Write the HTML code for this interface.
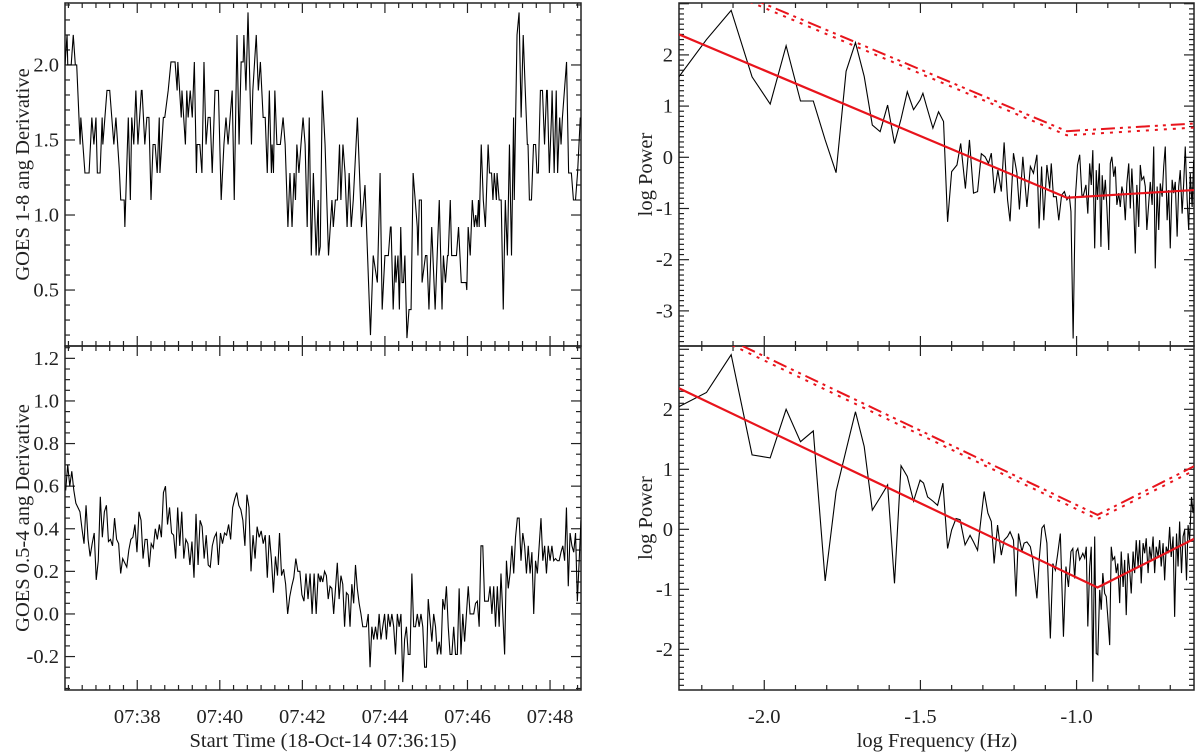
<!DOCTYPE html>
<html><head><meta charset="utf-8"><style>
html,body{margin:0;padding:0;background:#fff;}
svg{display:block;font-family:"Liberation Serif",serif;}
</style></head><body>
<svg id="chart" width="1200" height="752" viewBox="0 0 1200 752" xmlns="http://www.w3.org/2000/svg"></svg>
<script>
// ---------- Data ----------
const tlTime=[0,3,4,9,12,15,17,22,23,26,29,35,39,42,45,47,51,54,55,61,65,68,71,74,79,81,86,87,92,95,97,100,103,106,111,112,116,119,122,125,128,131,134,137,138,143,145,150,154,160,163,164,169,170,175,177,179,182,185,188,191,192,196,199,202,205,208,211,214,218,223,227,231,234,237,243,246,250,253,256,259,260,263,266,271,273,278,281,284,288,291,294,297,300,301,303,305,308,313,317,320,324,327,330,333,335,337,340,343,346,349,352,355,358,361,365,368,369,371,374,378,383,388,390,393,396,399,401,404,407,410,413,416,419,425,431,436,444,448,454,458,461,465,470,473,474,477,480,481,484,486,488,490,492,494,497,500,503,506,512,513,515,518,519,524,526,529,533,538,544,547,548,550,553,556,557,560,562,569,572,576,583,584,586,589,592,595,597,599,601,602,605,608,611,615,617,620,622,624,627,628,631,634,637,640,643,646,649,652,653,657,660,663,666,669,672,673,675,678,681,684,686,688,691,694,697,700,701,704,707,708,711,714,716,719,721,723,729,732,736,739,742,745,749];
const tlVal=[2.0,2.2,2.0,2.0,2.2,2.0,2.0,1.47,1.65,1.47,1.28,1.28,1.65,1.47,1.65,1.28,1.28,1.65,1.47,1.83,1.83,1.65,1.47,1.65,1.3,1.1,1.1,0.92,1.65,1.1,1.65,1.47,1.83,1.47,1.83,1.83,1.47,1.65,1.65,1.1,1.47,1.47,1.28,1.65,1.28,1.65,1.65,1.83,2.02,2.02,1.83,2.02,1.65,1.83,1.47,1.83,1.65,1.83,1.65,2.02,1.28,1.47,1.47,1.28,2.02,1.47,1.65,1.65,1.28,1.83,1.83,1.1,1.47,1.65,1.47,1.83,1.1,2.2,1.47,2.02,2.02,2.2,1.83,2.35,1.47,1.83,2.2,1.83,2.02,1.65,1.65,1.28,1.83,1.28,1.47,1.28,1.83,1.47,1.47,1.65,1.47,0.92,1.28,0.92,1.28,1.1,1.47,1.28,1.47,1.65,1.47,0.92,1.65,0.73,1.28,0.73,1.1,0.73,0.79,1.83,1.47,0.73,1.1,0.92,1.1,1.1,1.47,1.1,1.47,1.28,0.92,1.28,0.92,1.1,1.65,0.92,1.2,0.2,0.73,0.55,1.28,0.37,0.73,0.73,0.92,0.92,0.37,0.73,0.55,0.73,0.37,0.92,0.55,0.55,0.73,0.18,0.37,0.37,1.28,0.92,0.73,1.1,1.1,0.55,0.73,0.73,0.37,0.92,0.37,1.1,0.55,0.37,0.73,0.55,0.73,0.73,1.1,0.73,0.73,0.92,0.55,0.55,0.5,0.92,0.73,1.1,0.92,1.0,0.92,1.1,0.92,1.47,1.1,0.92,1.47,1.28,1.28,1.1,1.28,1.1,1.28,1.1,1.1,0.37,1.1,0.73,1.47,0.73,1.65,1.1,2.2,2.35,1.65,2.2,1.83,1.47,1.47,1.1,1.1,1.47,1.47,1.28,1.28,1.83,1.83,1.47,1.83,1.83,1.28,1.65,1.83,1.28,1.83,1.28,1.65,1.47,1.65,2.02,1.28,1.28,1.1,1.1,1.28,1.65];
const blSeg1Start=1, blSeg1End=371;
const blSeg1=[0.58,0.7,0.6,0.67,0.58,0.52,0.5,0.48,0.4,0.33,0.51,0.35,0.27,0.33,0.38,0.16,0.25,0.55,0.36,0.48,0.51,0.34,0.35,0.32,0.45,0.35,0.33,0.19,0.26,0.24,0.22,0.3,0.35,0.36,0.42,0.29,0.48,0.44,0.26,0.35,0.35,0.22,0.33,0.31,0.4,0.35,0.42,0.36,0.57,0.6,0.42,0.5,0.38,0.37,0.26,0.5,0.32,0.48,0.26,0.35,0.33,0.23,0.34,0.17,0.47,0.23,0.44,0.41,0.26,0.37,0.23,0.22,0.32,0.36,0.38,0.23,0.38,0.33,0.38,0.37,0.42,0.35,0.5,0.54,0.57,0.51,0.49,0.44,0.32,0.56,0.5,0.2,0.37,0.26,0.41,0.36,0.39,0.33,0.37,0.17,0.37,0.26,0.1,0.27,0.18,0.38,0.18,0.21,0.14,0.0,0.08,0.13,0.17,0.26,0.2,0.2,0.09,0.06,0.19,0.07,0.19,0.0,0.19,0.0,0.19,0.15];
const blSeg2Start=372, blSeg2End=750;
const blSeg2=[0.18,0.15,0.2,0.18,0.07,0.13,0.12,0.0,0.12,0.24,0.07,0.18,0.14,-0.06,0.1,0.09,-0.06,0.14,0.05,0.23,0.12,0.05,0.0,-0.06,-0.06,-0.06,0.0,-0.25,-0.06,-0.12,-0.06,-0.12,0.0,-0.12,-0.06,0.0,-0.12,0.0,-0.06,0.0,-0.06,-0.19,0.0,-0.06,0.0,-0.32,-0.12,-0.06,-0.19,-0.19,0.19,-0.06,-0.06,0.0,-0.06,0.0,-0.06,-0.25,-0.25,0.07,-0.03,-0.13,0.0,-0.06,-0.19,-0.13,-0.19,0.07,0.02,0.13,-0.06,-0.19,-0.19,-0.06,-0.19,-0.19,0.12,-0.19,0.0,-0.13,0.0,0.13,0.0,0.0,0.0,0.05,0.06,-0.06,0.32,0.32,0.06,0.06,0.06,0.13,0.0,0.13,-0.06,0.13,-0.06,0.19,0.0,-0.19,0.25,0.12,0.19,0.32,0.19,0.36,0.45,0.45,0.25,0.38,0.32,0.19,0.32,0.19,0.29,0.0,0.25,0.19,0.32,0.45,0.25,0.32,0.19,0.32,0.25,0.32,0.25,0.26,0.25,0.25,0.29,0.32,0.25,0.5,0.13,0.38,0.32,0.29,0.38,0.06,0.25,0.44];
const trFreq=[-2.282,-2.185,-2.106,-2.039,-1.981,-1.930,-1.884,-1.843,-1.805,-1.770,-1.738,-1.708,-1.680,-1.654,-1.629,-1.605,-1.583,-1.562,-1.542,-1.522,
-1.501,-1.492,-1.480,-1.460,-1.442,-1.426,-1.413,-1.400,-1.383,-1.371,-1.356,-1.343,-1.330,-1.317,-1.305,-1.293,-1.282,-1.273,-1.263,-1.252,-1.241,-1.232,-1.221,-1.213,-1.202,-1.191,-1.183,-1.172,-1.159,-1.148,-1.138,-1.127,-1.120,-1.112,-1.105,-1.095,-1.086,-1.081,-1.074,-1.065,-1.057,-1.048,-1.039,-1.031,-1.023,-1.018,-1.011,-1.004,-0.997,-0.990,-0.983,-0.978,-0.970,-0.964,-0.958,-0.953,-0.948,-0.942,-0.937,-0.933,-0.927,-0.922,-0.918,-0.913,-0.908,-0.903,-0.897,-0.892,-0.887,-0.881,-0.876,-0.871,-0.865,-0.860,-0.855,-0.849,-0.844,-0.839,-0.833,-0.828,-0.823,-0.817,-0.812,-0.807,-0.801,-0.796,-0.791,-0.785,-0.780,-0.775,-0.769,-0.764,-0.758,-0.753,-0.748,-0.742,-0.737,-0.732,-0.726,-0.721,-0.716,-0.710,-0.705,-0.700,-0.694,-0.689,-0.684,-0.678,-0.673,-0.668,-0.662,-0.657,-0.652,-0.646,-0.641,-0.636,-0.630,-0.625];
const trPow=[1.5,2.3,2.87,1.57,1.04,2.18,1.10,1.10,0.34,-0.30,1.68,2.24,1.58,0.63,0.5,1.02,0.27,0.75,1.28,0.93,
1.12,1.25,0.99,0.57,0.89,0.70,-1.26,-0.28,-0.15,0.27,-0.61,0.34,-0.70,-0.67,0.07,0.01,-0.12,0.08,-0.70,-0.25,-0.67,0.29,-0.83,-1.25,0.08,-0.31,-1.02,0.01,-0.97,-0.18,-0.31,0.05,-1.39,-0.18,-1.23,-0.15,-0.61,-0.12,-0.77,-0.77,-1.23,-0.74,-0.67,-0.83,-0.76,-1.06,-3.54,-0.80,-0.15,0.05,-0.74,-0.74,-0.54,-1.10,-0.12,-0.54,0.14,-1.78,-0.25,-0.83,-0.12,-1.75,-0.35,-0.83,-0.44,-0.97,-1.81,-0.12,0.01,-0.38,-0.18,-0.93,-0.70,-0.97,-0.57,-0.74,-1.23,-0.51,-0.12,-1.00,-0.22,-0.97,-1.88,-0.54,-1.36,-0.15,-0.44,-0.38,-0.57,-1.42,-0.90,-0.48,-0.93,0.21,-2.17,-0.57,-1.42,-0.51,-0.77,-0.18,0.21,-1.23,-0.64,-1.78,-0.44,-0.70,-0.48,-1.55,-0.57,-0.25,-1.10,-0.51,0.21,-0.83,-1.42,-0.31,-0.97,-0.05];
const trFitFreq=[-2.273,-1.031,-0.624];
const trFitPow=[2.40,-0.79,-0.64];
const trConfOffsets=[1.30,1.22];
const brFreq=[-2.282,-2.185,-2.106,-2.039,-1.981,-1.930,-1.884,-1.843,-1.805,-1.770,-1.738,-1.708,-1.680,-1.654,-1.629,-1.605,-1.583,-1.562,-1.542,-1.522,
-1.501,-1.490,-1.477,-1.460,-1.445,-1.428,-1.413,-1.400,-1.386,-1.373,-1.357,-1.341,-1.330,-1.317,-1.309,-1.296,-1.284,-1.273,-1.264,-1.253,-1.241,-1.232,-1.221,-1.213,-1.202,-1.194,-1.186,-1.175,-1.168,-1.159,-1.148,-1.140,-1.127,-1.119,-1.111,-1.104,-1.095,-1.084,-1.076,-1.068,-1.061,-1.052,-1.042,-1.034,-1.026,-1.018,-1.012,-1.006,-1.001,-0.996,-0.990,-0.985,-0.980,-0.974,-0.969,-0.964,-0.958,-0.953,-0.948,-0.942,-0.937,-0.932,-0.926,-0.921,-0.916,-0.910,-0.905,-0.900,-0.894,-0.889,-0.884,-0.878,-0.873,-0.868,-0.862,-0.857,-0.851,-0.846,-0.841,-0.835,-0.830,-0.825,-0.819,-0.814,-0.809,-0.803,-0.798,-0.793,-0.787,-0.782,-0.777,-0.771,-0.766,-0.761,-0.755,-0.750,-0.745,-0.739,-0.734,-0.729,-0.723,-0.718,-0.713,-0.707,-0.702,-0.697,-0.691,-0.686,-0.680,-0.675,-0.670,-0.664,-0.659,-0.654,-0.648,-0.643,-0.638,-0.632,-0.627,-0.622];
const brPow=[2.02,2.28,2.91,1.24,1.19,2.0,1.46,1.64,-0.86,0.63,1.32,1.96,1.38,0.32,0.53,0.74,-0.9,1.06,0.88,0.47,
0.82,0.77,0.54,0.47,0.40,0.77,-0.32,-0.01,0.18,0.16,-0.26,-0.1,-0.21,-0.35,0.04,0.63,0.27,0.13,-0.57,0.07,-0.43,-0.18,-0.12,-0.04,-0.18,-1.12,-0.07,-0.37,-0.23,-0.21,-0.29,-0.51,-1.15,-0.46,0.02,0.07,-0.23,-1.82,-0.57,-0.68,-0.43,-0.07,-1.79,-0.62,-0.96,-0.37,-0.32,-0.82,-0.37,-0.32,-0.51,-0.46,-0.40,-0.48,-0.29,-1.62,-0.62,-0.29,-2.54,-0.12,-2.07,-2.09,-1.01,-1.34,-0.73,-1.07,-1.12,-1.46,-1.93,-0.29,-0.51,-0.46,-0.73,-0.57,-1.23,-0.37,-0.96,-0.51,-1.43,-0.40,-0.68,-1.07,-0.37,-0.73,-0.18,-0.62,-0.18,-0.90,-0.23,-0.40,-0.15,-0.73,-0.29,-0.51,-0.12,-0.73,-0.29,-0.46,-0.18,-0.62,-0.23,-0.85,-0.29,-0.40,0.04,-0.46,-0.12,-1.46,-0.07,-0.62,0.13,-0.73,-0.12,-0.01,-0.85,0.07,-0.18,0.54,0.27,0.49];
const brFitFreq=[-2.273,-0.933,-0.624];
const brFitPow=[2.35,-0.97,-0.16];
const brConfOffsets=[1.21,1.14];
const timeTickLabels=["07:38","07:40","07:42","07:44","07:46","07:48"];
const timeTickSecs=[105,225,345,465,585,705];
const tlYTicks=[0.5,1.0,1.5,2.0];
const blYTicks=[-0.2,0.0,0.2,0.4,0.6,0.8,1.0,1.2];
const trYTicks=[-3,-2,-1,0,1,2];
const brYTicks=[-2,-1,0,1,2];
const freqTicks=[-2.0,-1.5,-1.0];

const NS="http://www.w3.org/2000/svg";
const svg=document.getElementById('chart');
const FS=20.5;
function mk(tag,attrs,parent){const e=document.createElementNS(NS,tag);for(const k in attrs)e.setAttribute(k,attrs[k]);(parent||svg).appendChild(e);return e;}
function scale(d0,d1,r0,r1){return v=>r0+(v-d0)/(d1-d0)*(r1-r0);}

const panels={
 tl:{x0:65,x1:581,y0:3,y1:346,xd:[0,750],yd:[2.413,0.127]},
 bl:{x0:65,x1:581,y0:346,y1:690,xd:[0,750],yd:[1.258,-0.357]},
 tr:{x0:679,x1:1194,y0:3,y1:346,xd:[-2.273,-0.624],yd:[3.014,-3.686]},
 br:{x0:679,x1:1194,y0:346,y1:690,xd:[-2.273,-0.624],yd:[3.055,-2.678]}
};
for(const k in panels){const p=panels[k];p.sx=scale(p.xd[0],p.xd[1],p.x0,p.x1);p.sy=scale(p.yd[0],p.yd[1],p.y0,p.y1);
 const cp=mk('clipPath',{id:'clip-'+k});mk('rect',{x:p.x0,y:p.y0,width:p.x1-p.x0,height:p.y1-p.y0},cp);}

function line(p,xs,ys,attrs,name,parent){
 const d=xs.map((x,i)=>(i?'L':'M')+p.sx(x).toFixed(2)+' '+p.sy(ys[i]).toFixed(2)).join(' ');
 const el=mk('path',Object.assign({d:d,fill:'none'},attrs),parent);
 
 
 return el;
}

function axes(key,opts){
 const p=panels[key];
 const g=mk('g',{});
 
 
 const st={stroke:'#222','stroke-width':1.2};
 const yMin=Math.min(p.yd[0],p.yd[1]),yMax=Math.max(p.yd[0],p.yd[1]);
 for(let v=Math.ceil(yMin/opts.yMinor-1e-6)*opts.yMinor;v<=yMax+1e-9;v+=opts.yMinor){
  const y=p.sy(v);const isMaj=Math.abs(v/opts.yMajor-Math.round(v/opts.yMajor))<1e-6;const L=isMaj?10:5;
  mk('line',Object.assign({x1:p.x0,x2:p.x0+L,y1:y,y2:y},st),g);
  mk('line',Object.assign({x1:p.x1,x2:p.x1-L,y1:y,y2:y},st),g);
 }
 opts.yLabels.forEach(v=>{
  const t=mk('text',{x:p.x0-6,y:p.sy(v)+6.5,'text-anchor':'end','font-size':FS,fill:'#222'},g);
  t.textContent=opts.yFmt(v);
  
  
 });
 for(let v=opts.xMinorStart;v<=p.xd[1]+1e-9;v+=opts.xMinor){
  const x=p.sx(v);const isMaj=opts.isMajor(v);const L=isMaj?10:5;
  mk('line',Object.assign({x1:x,x2:x,y1:p.y1,y2:p.y1-L},st),g);
  mk('line',Object.assign({x1:x,x2:x,y1:p.y0,y2:p.y0+L},st),g);
 }
 mk('rect',{x:p.x0,y:p.y0,width:p.x1-p.x0,height:p.y1-p.y0,fill:'none',stroke:'#222','stroke-width':1.5},g);
 const yt=mk('text',{x:0,y:0,transform:`translate(${opts.yTitleX},${(p.y0+p.y1)/2}) rotate(-90)`,'text-anchor':'middle','font-size':FS,fill:'#222'},g);
 yt.textContent=opts.yTitle;
 
 
}

const tIsMaj=v=>Math.abs(((v-105)%120+120)%120)<1e-6;
axes('tl',{yMinor:0.1,yMajor:0.5,yLabels:tlYTicks,yFmt:v=>v.toFixed(1),xMinorStart:5,xMinor:20,isMajor:tIsMaj,yTitle:'GOES 1-8 ang Derivative',yTitleX:29});
axes('bl',{yMinor:0.05,yMajor:0.2,yLabels:blYTicks,yFmt:v=>v.toFixed(1),xMinorStart:5,xMinor:20,isMajor:tIsMaj,yTitle:'GOES 0.5-4 ang Derivative',yTitleX:29});
const tlg=mk('g',{'clip-path':'url(#clip-tl)'});
line(panels.tl,tlTime,tlVal,{stroke:'#000','stroke-width':1.1},'goes-1-8-series',tlg);
const blT1=blSeg1.map((_,i)=>blSeg1Start+i*(blSeg1End-blSeg1Start)/(blSeg1.length-1));
const blT2=blSeg2.map((_,i)=>blSeg2Start+i*(blSeg2End-blSeg2Start)/(blSeg2.length-1));
const blg=mk('g',{'clip-path':'url(#clip-bl)'});
line(panels.bl,blT1.concat(blT2),blSeg1.concat(blSeg2),{stroke:'#000','stroke-width':1.1},'goes-0.5-4-series',blg);
timeTickSecs.forEach((s,i)=>{
 const t=mk('text',{x:panels.bl.sx(s),y:723,'text-anchor':'middle','font-size':FS,fill:'#222'});
 t.textContent=timeTickLabels[i];
 
 
});
const xt1=mk('text',{x:323,y:747,'text-anchor':'middle','font-size':FS,fill:'#222'});
xt1.textContent='Start Time (18-Oct-14 07:36:15)';



const fIsMaj=v=>Math.abs(v*2-Math.round(v*2))<1e-6;
axes('tr',{yMinor:0.1,yMajor:1,yLabels:trYTicks,yFmt:v=>String(v),xMinorStart:-2.2,xMinor:0.1,isMajor:fIsMaj,yTitle:'log Power',yTitleX:652});
axes('br',{yMinor:0.1,yMajor:1,yLabels:brYTicks,yFmt:v=>String(v),xMinorStart:-2.2,xMinor:0.1,isMajor:fIsMaj,yTitle:'log Power',yTitleX:652});
function spectrum(key,fr,pw,ff,fp,offs){
 const p=panels[key];
 const g=mk('g',{'clip-path':'url(#clip-'+key+')'});
 line(p,fr,pw,{stroke:'#000','stroke-width':1.1},key+'-power-spectrum',g);
 line(p,ff,fp,{stroke:'#e8141c','stroke-width':2.2},key+'-fit-line',g);
 line(p,ff,fp.map(v=>v+offs[0]),{stroke:'#e8141c','stroke-width':2,'stroke-dasharray':'14 5 3 5 3 5'},key+'-conf-99',g);
 line(p,ff,fp.map(v=>v+offs[1]),{stroke:'#e8141c','stroke-width':2,'stroke-dasharray':'3 6','stroke-dashoffset':4},key+'-conf-95',g);
}
spectrum('tr',trFreq,trPow,trFitFreq,trFitPow,trConfOffsets);
spectrum('br',brFreq,brPow,brFitFreq,brFitPow,brConfOffsets);
freqTicks.forEach(v=>{
 const t=mk('text',{x:panels.br.sx(v),y:723,'text-anchor':'middle','font-size':FS,fill:'#222'});
 t.textContent=v.toFixed(1);
 
 
});
const xt2=mk('text',{x:937,y:747,'text-anchor':'middle','font-size':FS,fill:'#222'});
xt2.textContent='log Frequency (Hz)';


</script>
</body></html>
